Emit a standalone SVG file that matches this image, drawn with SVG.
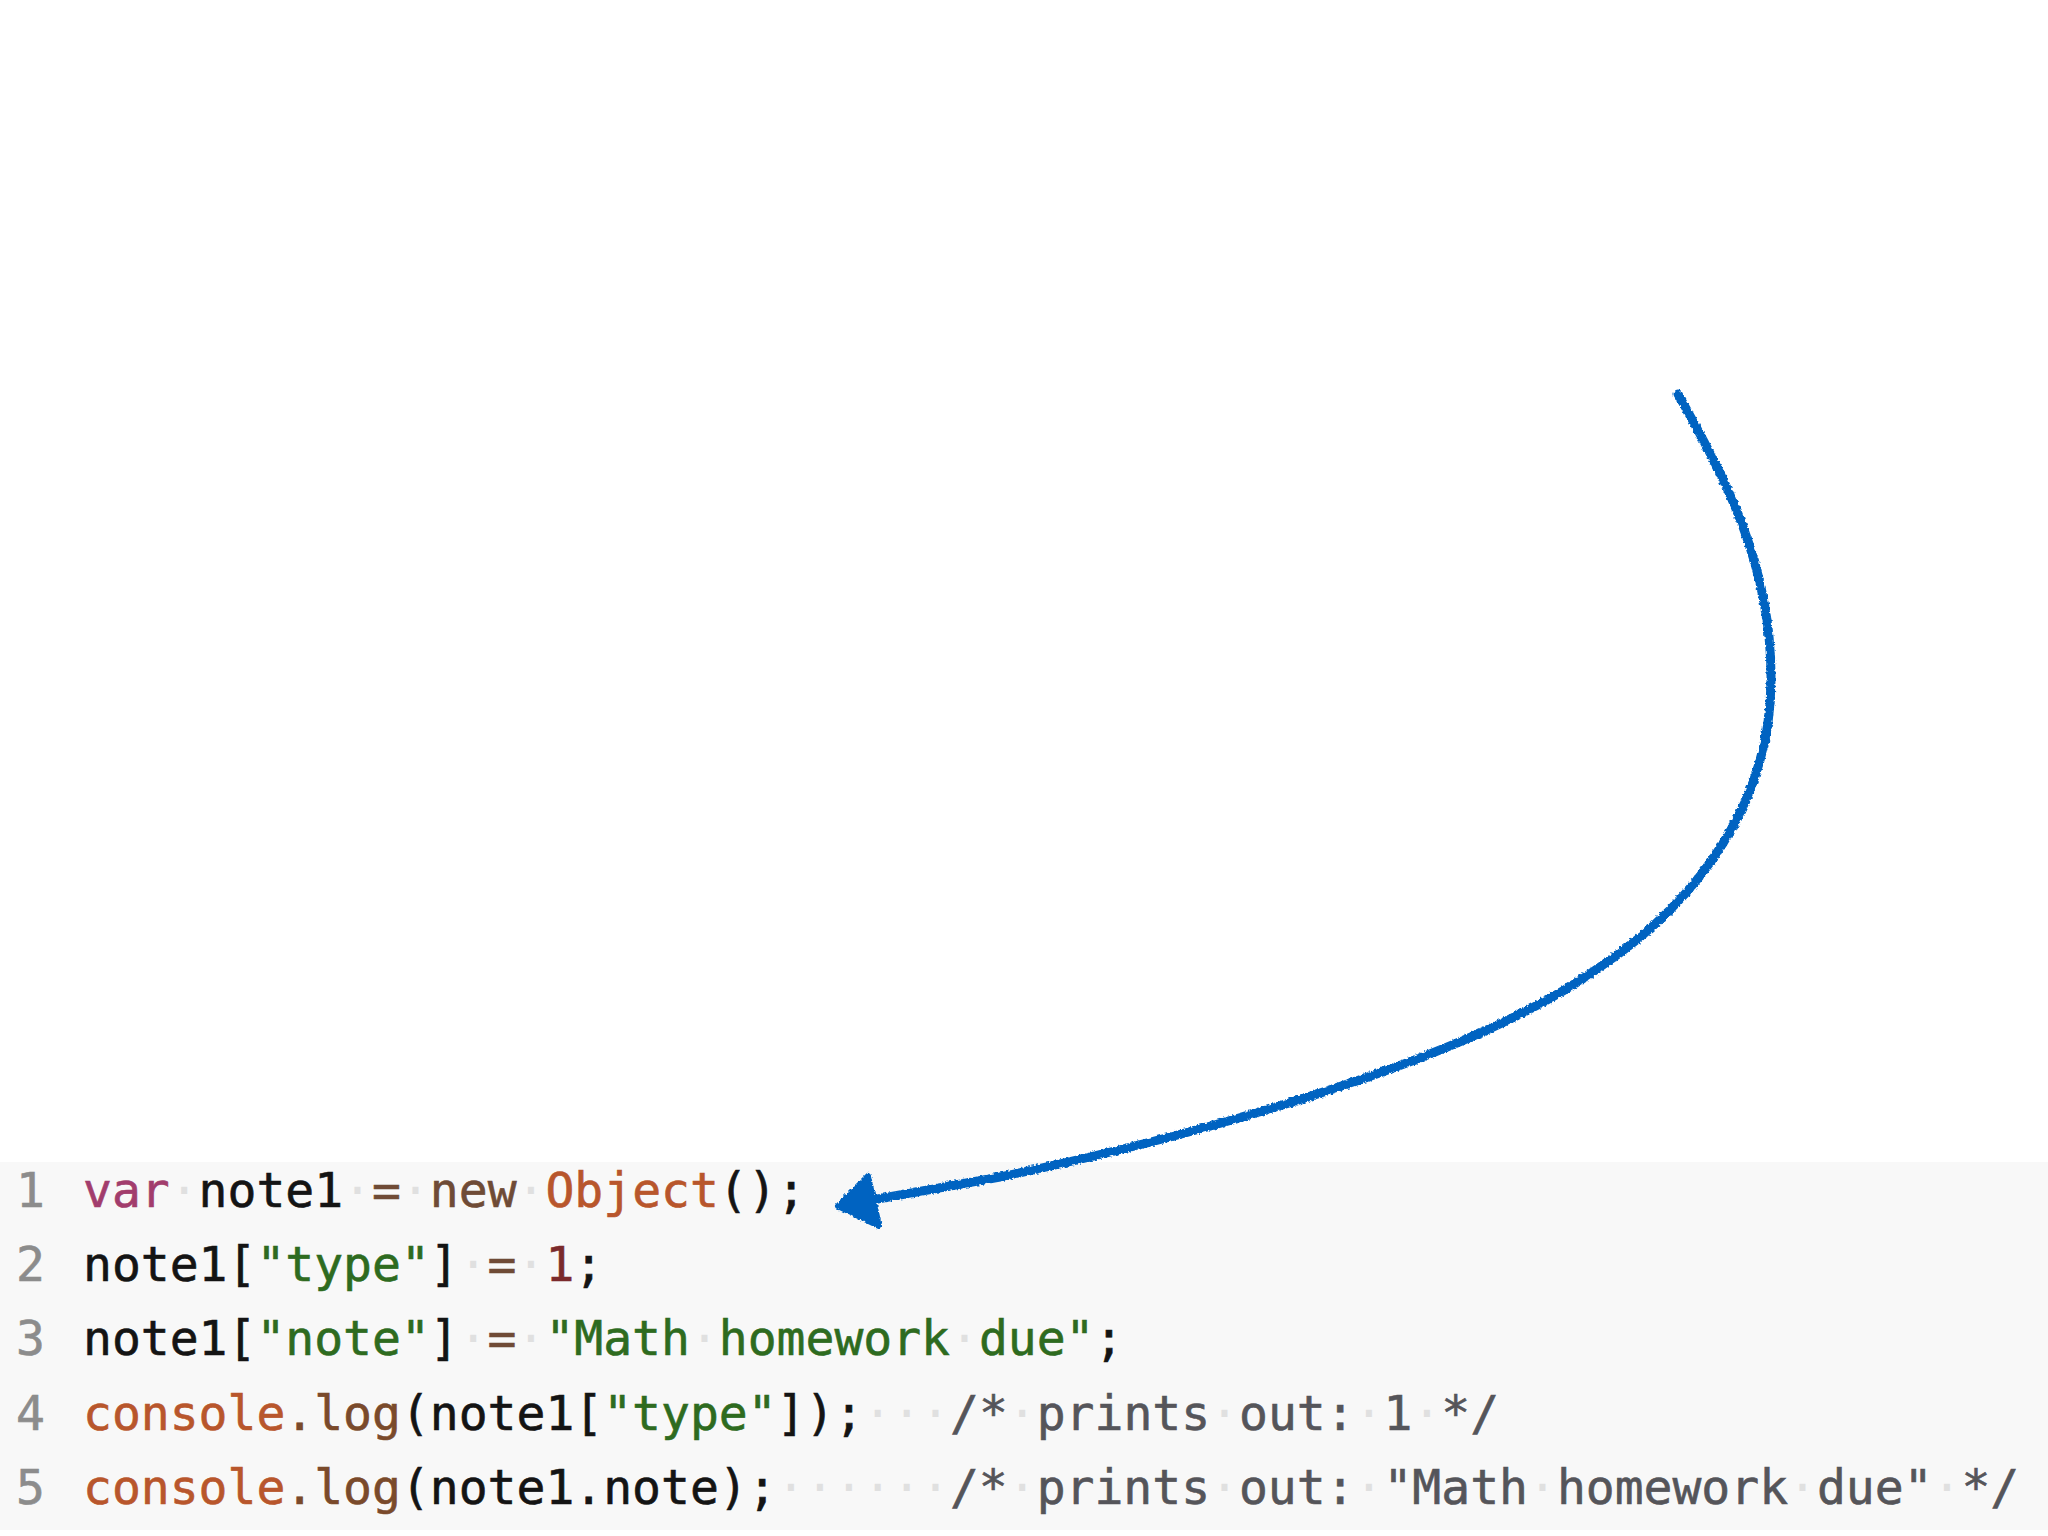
<svg xmlns="http://www.w3.org/2000/svg" width="2048" height="1536" viewBox="0 0 2048 1536">
<defs>
<style>
text{font-family:"DejaVu Sans Mono","Liberation Mono",monospace;font-size:48px;color:#141414;fill:currentColor;stroke:currentColor;stroke-width:0.6px}
.ln{color:#8c8c8c}
.kw{color:#a23d6d}
.op{color:#6f4b36}
.fn{color:#b8562c}
.pr{color:#7a4a2b}
.st{color:#2e6b1f}
.nm{color:#7b2a2c}
.cm{color:#55555a}
.ws{color:#e0e0e0;stroke-width:0}
.pen{fill:none;stroke:#0664c1;stroke-width:9;stroke-linecap:round;stroke-linejoin:round}
.head{fill:#0664c1;stroke:#0664c1;stroke-width:6;stroke-linejoin:round}
</style>
<filter id="rough" x="-5%" y="-5%" width="110%" height="110%">
<feTurbulence type="fractalNoise" baseFrequency="0.35" numOctaves="2" seed="3" result="n"/>
<feDisplacementMap in="SourceGraphic" in2="n" scale="4" xChannelSelector="R" yChannelSelector="G"/>
</filter>
</defs>
<rect x="0" y="0" width="2048" height="1536" fill="#ffffff"/>
<g id="code-block">
<rect x="0" y="1162" width="2048" height="368" fill="#f8f8f8"/>
<g id="line-1"><text class="ln" x="16" y="1207">1</text><text x="83" y="1207"><tspan class="kw">var</tspan><tspan class="ws">·</tspan>note1<tspan class="ws">·</tspan><tspan class="op">=</tspan><tspan class="ws">·</tspan><tspan class="op">new</tspan><tspan class="ws">·</tspan><tspan class="fn">Object</tspan>();</text></g>
<g id="line-2"><text class="ln" x="16" y="1281">2</text><text x="83" y="1281">note1[<tspan class="st">"type"</tspan>]<tspan class="ws">·</tspan><tspan class="op">=</tspan><tspan class="ws">·</tspan><tspan class="nm">1</tspan>;</text></g>
<g id="line-3"><text class="ln" x="16" y="1355">3</text><text x="83" y="1355">note1[<tspan class="st">"note"</tspan>]<tspan class="ws">·</tspan><tspan class="op">=</tspan><tspan class="ws">·</tspan><tspan class="st">"Math</tspan><tspan class="ws">·</tspan><tspan class="st">homework</tspan><tspan class="ws">·</tspan><tspan class="st">due"</tspan>;</text></g>
<g id="line-4"><text class="ln" x="16" y="1430">4</text><text x="83" y="1430"><tspan class="fn">console</tspan><tspan class="pr">.log</tspan>(note1[<tspan class="st">"type"</tspan>]);<tspan class="ws">···</tspan><tspan class="cm">/*</tspan><tspan class="ws">·</tspan><tspan class="cm">prints</tspan><tspan class="ws">·</tspan><tspan class="cm">out:</tspan><tspan class="ws">·</tspan><tspan class="cm">1</tspan><tspan class="ws">·</tspan><tspan class="cm">*/</tspan></text></g>
<g id="line-5"><text class="ln" x="16" y="1504">5</text><text x="83" y="1504"><tspan class="fn">console</tspan><tspan class="pr">.log</tspan>(note1.note);<tspan class="ws">······</tspan><tspan class="cm">/*</tspan><tspan class="ws">·</tspan><tspan class="cm">prints</tspan><tspan class="ws">·</tspan><tspan class="cm">out:</tspan><tspan class="ws">·</tspan><tspan class="cm">"Math</tspan><tspan class="ws">·</tspan><tspan class="cm">homework</tspan><tspan class="ws">·</tspan><tspan class="cm">due"</tspan><tspan class="ws">·</tspan><tspan class="cm">*/</tspan></text></g>
</g>
<g id="connectors" filter="url(#rough)">
<path class="pen" d="M1678,394 C1720,470 1772,560 1771,680 C1771,800 1700,900 1600,967 C1470,1060 1200,1135 1000,1177 L872,1200"/>
<polygon class="head" points="838,1206 868,1176 879,1226"/>
</g>
</svg>
